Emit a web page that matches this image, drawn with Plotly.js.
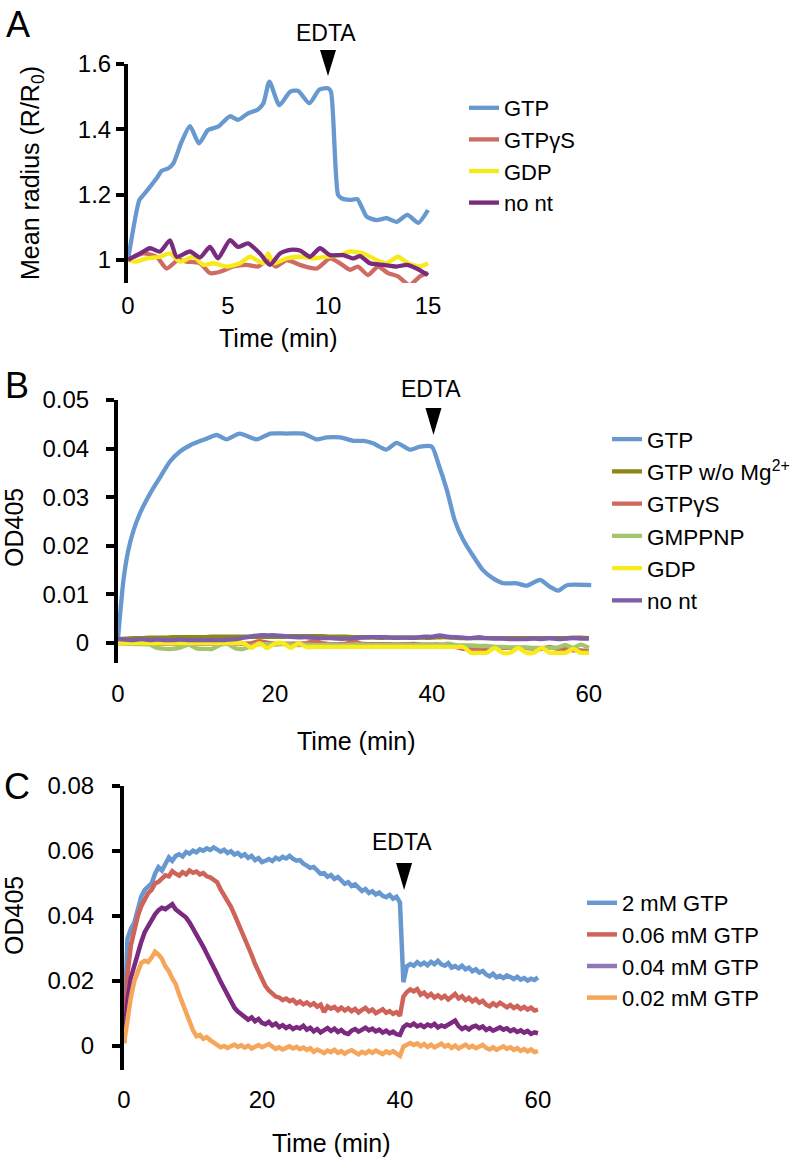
<!DOCTYPE html>
<html><head><meta charset="utf-8">
<script src="https://cdn.plot.ly/plotly-3.0.1.min.js"></script>
<style>html,body{margin:0;padding:0;background:#fff}</style>
</head><body><div id="chart" style="width:801px;height:1162px"></div>
<script>
// ---------- Panel A data (time in min, mean radius R/R0) ----------
const seriesA = ['GTP', 'GTPγS', 'GDP', 'no nt'];
const tA_gtp = [0,0.57,0.77,1.1,1.43,1.68,2.0,2.27,2.68,3.1,3.55,4.0,4.5,5.1,5.5,6.0,6.5,6.77,7.07,7.57,8.1,8.5,9.07,9.57,10.0,10.15,10.5,10.68,11.1,11.47,11.93,12.43,12.93,13.43,13.97,14.52,15.0];
const vA_gtp = [1.0,1.184,1.199,1.224,1.25,1.273,1.28,1.296,1.362,1.41,1.357,1.398,1.408,1.44,1.429,1.449,1.461,1.48,1.546,1.474,1.515,1.518,1.48,1.522,1.526,1.515,1.2,1.189,1.184,1.186,1.133,1.122,1.128,1.117,1.138,1.114,1.153];
const tA_gtpgs = [0,0.77,1.43,1.93,2.5,2.93,3.6,4.1,4.6,5.27,5.93,6.5,7.0,7.4,7.93,8.6,9.43,10.1,10.6,11.1,11.5,12.0,12.5,13.0,13.5,14.07,14.6,15.0];
const vA_gtpgs = [1.0,1.02,1.01,0.974,1.0,0.995,0.99,0.96,0.964,0.98,0.985,0.98,1.0,0.98,1.0,0.985,0.974,1.005,0.99,0.97,0.98,0.954,0.98,0.96,0.95,0.923,0.95,0.96];
const tA_gdp = [0,0.43,0.93,1.6,2.1,2.6,3.27,3.77,4.27,4.93,5.6,6.1,6.77,7.0,7.27,7.93,8.6,9.27,9.93,10.6,11.1,11.77,12.43,12.93,13.5,14.0,14.6,15.0];
const vA_gdp = [1.0,0.995,1.005,1.01,1.02,0.995,1.01,0.985,0.99,0.98,0.99,1.01,0.99,1.02,0.99,1.005,1.01,1.005,1.01,1.015,1.026,1.02,1.0,0.99,1.01,0.99,0.98,0.99];
const tA_nont = [0,0.6,1.1,1.6,2.1,2.43,3.1,3.6,4.1,4.5,5.1,5.5,6.0,6.6,7.1,7.6,8.1,8.6,9.1,9.6,10.1,10.77,11.27,11.6,12.1,12.77,13.43,13.93,14.43,15.0];
const vA_nont = [1.0,1.02,1.036,1.026,1.06,1.01,1.026,1.008,1.04,1.005,1.061,1.04,1.051,1.02,0.985,1.02,1.031,1.029,1.01,1.036,1.015,1.015,1.005,1.012,0.99,0.985,0.98,0.985,0.974,0.954];
const ticksA_x = [0, 5, 10, 15];
const ticksA_y = [1, 1.2, 1.4, 1.6];
const tickTextA_y = ['1', '1.2', '1.4', '1.6'];

// ---------- Panel B data (OD405) ----------
const seriesB = ['GTP', 'GTP w/o Mg<sup>2+</sup>', 'GTPγS', 'GMPPNP', 'GDP', 'no nt'];
const tB_gtp = [0,0.7,1.3,2,2.8,3.5,4.1,5.4,6.6,7.9,9.2,10.9,12.6,13.8,15.5,17.7,19.4,21.5,23.6,25.3,26.6,28.3,30,31.3,32.5,34.2,35.5,37.2,38.5,40,40.8,41.9,42.9,44,45.3,46.5,47.8,49.1,50.8,52.1,53.8,55,56.1,57.2,60.3];
const vB_gtp = [0.001,0.013,0.019,0.0233,0.0267,0.029,0.0308,0.0342,0.0373,0.0394,0.0407,0.0418,0.0428,0.0419,0.0431,0.0419,0.0431,0.0431,0.0431,0.0419,0.0423,0.0423,0.0416,0.0416,0.0411,0.0398,0.0412,0.0398,0.0404,0.0404,0.037,0.0315,0.0253,0.0212,0.0178,0.015,0.0133,0.0123,0.0123,0.0118,0.013,0.0116,0.0108,0.0119,0.0119];
// one reading per minute, 0..60 min
const vB_noMg = [0.0008,0.0009,0.0010,0.0010,0.0011,0.0011,0.0011,0.0012,0.0012,0.0012,
  0.0012,0.0012,0.0013,0.0013,0.0013,0.0013,0.0013,0.0013,0.0013,0.0013,
  0.0013,0.0013,0.0014,0.0014,0.0014,0.0014,0.0014,0.0013,0.0013,0.0013,
  0.0012,0.0012,0.0012,0.0011,0.0011,0.0011,0.0011,0.0011,0.0011,0.0011,
  0.0011,0.0012,0.0012,0.0011,0.0010,0.0010,0.0010,0.0010,0.0010,0.0010,
  0.0010,0.0010,0.0010,0.0010,0.0010,0.0010,0.0010,0.0010,0.0011,0.0011,0.0010];
const vB_gtpgs = [0.0000,0.0000,-0.0001,-0.0001,0.0000,-0.0001,-0.0001,-0.0001,-0.0001,-0.0001,
  -0.0001,-0.0001,-0.0001,-0.0001,-0.0001,-0.0001,-0.0001,0.0000,0.0004,0.0001,
  -0.0001,-0.0001,-0.0001,-0.0001,0.0000,0.0004,0.0000,-0.0002,-0.0002,-0.0001,
  0.0004,-0.0001,-0.0002,-0.0002,-0.0002,-0.0002,-0.0002,-0.0002,-0.0002,-0.0003,
  -0.0003,-0.0003,-0.0004,-0.0008,-0.0012,-0.0012,-0.0012,-0.0012,-0.0010,-0.0010,
  -0.0010,-0.0010,-0.0010,-0.0012,-0.0012,-0.0008,-0.0012,-0.0012,-0.0015,-0.0015,-0.0016];
const vB_gmppnp = [0.0000,-0.0001,-0.0002,-0.0002,-0.0003,-0.0010,-0.0012,-0.0012,-0.0009,-0.0003,
  -0.0011,-0.0012,-0.0012,-0.0004,-0.0002,-0.0011,-0.0012,-0.0006,-0.0002,-0.0002,
  -0.0003,-0.0002,-0.0003,-0.0004,-0.0003,-0.0004,-0.0004,-0.0003,-0.0004,-0.0004,
  -0.0003,-0.0003,-0.0004,-0.0004,-0.0004,-0.0003,-0.0003,-0.0004,-0.0004,-0.0003,
  -0.0003,-0.0004,-0.0001,-0.0004,-0.0005,-0.0005,-0.0006,-0.0006,-0.0008,-0.0008,
  -0.0009,-0.0009,-0.0009,-0.0010,-0.0010,-0.0010,-0.0009,-0.0004,-0.0010,-0.0003,-0.0010];
const vB_gdp = [0,0,0,0,0,0,0,0,0,0,
  0,0,0,0,0,0,0,-0.0010,0,-0.0010,
  -0.0001,0,-0.0010,0,-0.0008,-0.0008,-0.0008,-0.0008,-0.0008,-0.0008,
  -0.0008,-0.0008,-0.0008,-0.0008,-0.0008,-0.0008,-0.0008,-0.0008,-0.0008,-0.0008,
  -0.0008,-0.0008,-0.0008,-0.0008,-0.0008,-0.0020,-0.0020,-0.0020,-0.0010,-0.0020,
  -0.0020,-0.0010,-0.0020,-0.0020,-0.0010,-0.0020,-0.0020,-0.0020,-0.0012,-0.0020,-0.0020];
const vB_nont = [0.0008,0.0007,0.0006,0.0008,0.0006,0.0007,0.0006,0.0006,0.0007,0.0006,
  0.0006,0.0006,0.0006,0.0006,0.0007,0.0008,0.0011,0.0014,0.0016,0.0016,
  0.0016,0.0015,0.0013,0.0012,0.0012,0.0011,0.0010,0.0010,0.0009,0.0009,
  0.0010,0.0011,0.0012,0.0012,0.0012,0.0011,0.0011,0.0011,0.0011,0.0013,
  0.0013,0.0016,0.0013,0.0012,0.0011,0.0010,0.0012,0.0010,0.0009,0.0009,
  0.0008,0.0008,0.0008,0.0009,0.0008,0.0010,0.0008,0.0009,0.0010,0.0009,0.0009];
const ticksB_x = [0, 20, 40, 60];
const ticksB_y = [0, 0.01, 0.02, 0.03, 0.04, 0.05];
const tickTextB_y = ['0', '0.01', '0.02', '0.03', '0.04', '0.05'];

// ---------- Panel C data (OD405, one reading every 0.5 min, 0..60 min) ----------
const seriesC = ['2 mM GTP', '0.06 mM GTP', '0.04 mM GTP', '0.02 mM GTP'];
const vC_2mM = [0.002,0.033,0.036,0.038,0.042,0.046,0.048,0.049,0.050,0.053,
  0.055,0.054,0.056,0.058,0.057,0.0585,0.059,0.0583,0.0597,0.0592,
  0.0601,0.0596,0.0605,0.0601,0.0608,0.0603,0.0611,0.0606,0.0598,0.0604,
  0.0594,0.0599,0.0589,0.0594,0.0584,0.0590,0.0579,0.0585,0.0572,0.0578,
  0.0566,0.0570,0.0575,0.0569,0.0579,0.0574,0.0582,0.0577,0.0585,0.0576,
  0.0570,0.0572,0.0561,0.0555,0.0548,0.0551,0.0538,0.0530,0.0532,0.0521,
  0.0526,0.0514,0.0520,0.0508,0.0499,0.0504,0.0492,0.0497,0.0485,0.0477,
  0.0483,0.0471,0.0476,0.0466,0.0472,0.0462,0.0458,0.0465,0.0453,0.0459,
  0.0442,0.0196,0.0245,0.0252,0.0247,0.0258,0.0250,0.0256,0.0248,0.0259,
  0.0252,0.0262,0.0251,0.0247,0.0255,0.0241,0.0246,0.0239,0.0247,0.0236,
  0.0241,0.0230,0.0236,0.0226,0.0231,0.0220,0.0214,0.0222,0.0211,0.0216,
  0.0209,0.0217,0.0212,0.0206,0.0213,0.0204,0.0209,0.0201,0.0207,0.0203,
  0.0211];
const vC_006 = [0.001,0.022,0.031,0.036,0.040,0.043,0.045,0.047,0.048,0.050,
  0.0505,0.0515,0.0525,0.0522,0.0538,0.0530,0.0524,0.0535,0.0528,0.0540,
  0.0533,0.0537,0.0528,0.0532,0.0522,0.0519,0.0512,0.0504,0.0482,0.0465,
  0.0448,0.0428,0.0405,0.0381,0.0358,0.0330,0.0305,0.0280,0.0252,0.0228,
  0.0205,0.0184,0.0171,0.0162,0.0152,0.0149,0.0141,0.0146,0.0138,0.0142,
  0.0131,0.0137,0.0128,0.0134,0.0125,0.0131,0.0121,0.0127,0.0104,0.0122,
  0.0115,0.0120,0.0110,0.0118,0.0109,0.0116,0.0107,0.0114,0.0103,0.0111,
  0.0117,0.0106,0.0112,0.0101,0.0109,0.0113,0.0102,0.0107,0.0099,0.0104,
  0.0093,0.0152,0.0166,0.0174,0.0168,0.0175,0.0158,0.0164,0.0152,0.0160,
  0.0149,0.0156,0.0147,0.0154,0.0143,0.0150,0.0160,0.0146,0.0153,0.0141,
  0.0148,0.0137,0.0144,0.0133,0.0139,0.0127,0.0122,0.0131,0.0124,0.0133,
  0.0127,0.0119,0.0126,0.0117,0.0123,0.0114,0.0120,0.0112,0.0118,0.0109,
  0.0112];
const vC_004 = [0.001,0.014,0.021,0.025,0.029,0.032,0.035,0.037,0.039,0.0405,
  0.0418,0.0425,0.0421,0.0428,0.0436,0.0420,0.0413,0.0402,0.0395,0.0380,
  0.0362,0.0345,0.0325,0.0305,0.0284,0.0265,0.0242,0.0221,0.0198,0.0176,
  0.0157,0.0135,0.0118,0.0106,0.0097,0.0090,0.0081,0.0088,0.0076,0.0083,
  0.0071,0.0067,0.0074,0.0063,0.0069,0.0058,0.0064,0.0055,0.0061,0.0052,
  0.0058,0.0054,0.0062,0.0050,0.0056,0.0045,0.0052,0.0042,0.0050,0.0055,
  0.0046,0.0053,0.0043,0.0049,0.0040,0.0037,0.0047,0.0052,0.0044,0.0050,
  0.0056,0.0048,0.0053,0.0045,0.0050,0.0041,0.0047,0.0039,0.0044,0.0036,
  0.0034,0.0058,0.0066,0.0062,0.0069,0.0060,0.0065,0.0058,0.0066,0.0061,
  0.0068,0.0057,0.0063,0.0059,0.0066,0.0072,0.0078,0.0061,0.0052,0.0058,
  0.0051,0.0059,0.0062,0.0055,0.0060,0.0049,0.0055,0.0047,0.0053,0.0057,
  0.0050,0.0054,0.0046,0.0051,0.0043,0.0048,0.0041,0.0046,0.0037,0.0042,
  0.0039];
const vC_002 = [0.0008,0.008,0.015,0.020,0.023,0.0255,0.0262,0.0258,0.0272,0.0290,
  0.0281,0.0268,0.0245,0.0230,0.0208,0.0190,0.0158,0.0128,0.0102,0.0072,
  0.0048,0.0030,0.0034,0.0022,0.0027,0.0018,0.0010,0.0003,-0.0004,0.0000,
  -0.0006,-0.0001,0.0004,-0.0003,0.0002,-0.0005,0.0001,-0.0008,-0.0002,0.0003,
  -0.0004,0.0001,0.0006,-0.0002,-0.0009,-0.0004,-0.0011,-0.0006,-0.0001,-0.0008,
  -0.0003,-0.0010,-0.0005,-0.0012,-0.0007,-0.0018,-0.0011,-0.0016,-0.0022,-0.0014,
  -0.0019,-0.0012,-0.0021,-0.0016,-0.0024,-0.0017,-0.0013,-0.0020,-0.0026,-0.0018,
  -0.0023,-0.0015,-0.0021,-0.0014,-0.0019,-0.0025,-0.0017,-0.0022,-0.0016,-0.0024,
  -0.0031,-0.0002,0.0005,0.0009,0.0003,0.0008,-0.0001,0.0006,-0.0003,0.0004,
  -0.0004,0.0002,0.0007,-0.0002,0.0003,-0.0006,0.0001,-0.0008,-0.0002,0.0004,
  -0.0005,0.0000,-0.0007,-0.0001,0.0003,-0.0006,-0.0011,-0.0004,-0.0012,-0.0006,
  -0.0001,-0.0009,-0.0004,-0.0012,-0.0007,-0.0015,-0.0010,-0.0017,-0.0011,-0.0019,
  -0.0016];
const ticksC_x = [0, 20, 40, 60];
const ticksC_y = [0, 0.02, 0.04, 0.06, 0.08];
const tickTextC_y = ['0', '0.02', '0.04', '0.06', '0.08'];

// EDTA addition times (min) for panels A, B, C
const edtaTimes = [10, 40.2, 40.6];

// ---------- geometry & style ----------
const W = 801, H = 1162;
const FONT = '"Liberation Sans", Arial, Helvetica, sans-serif';
const TICK_SIZE = 24, TITLE_SIZE = 25;
const fx = p => p / W;
const fy = p => 1 - p / H;
const geo = {
  A: {l: 128, r: 430, t: 64, b: 283, xr: [0, 15.1], yr: [0.9296, 1.6], base: 1},
  B: {l: 118, r: 592, t: 400, b: 663, xr: [0, 60.4], yr: [-0.0041, 0.05], base: 0},
  C: {l: 124, r: 540, t: 786, b: 1070, xr: [0, 60.3], yr: [-0.0074, 0.08], base: 0}
};
const xpx = (g, v) => g.l + (v - g.xr[0]) / (g.xr[1] - g.xr[0]) * (g.r - g.l);
const ypx = (g, v) => g.b - (v - g.yr[0]) / (g.yr[1] - g.yr[0]) * (g.b - g.t);

const colA = ['#6798CF', '#CE6C64', '#F7EA1B', '#7A2B7E'];
const colB = ['#6798CF', '#8E8618', '#D0685E', '#A4C46D', '#F9EA1A', '#7E5DA9'];
const colC = ['#6798CF', '#CF6359', '#7B2A80', '#F6A65B'];
const legendPurpleC = '#9077B5';

const traces = [];
const spl = {shape: 'spline', smoothing: 0.6};
// Panel A
[[tA_gtp, vA_gtp], [tA_gtpgs, vA_gtpgs], [tA_gdp, vA_gdp], [tA_nont, vA_nont]].forEach((d, i) => {
  traces.push({type: 'scatter', mode: 'lines', x: d[0], y: d[1], name: seriesA[i], xaxis: 'x', yaxis: 'y',
    legend: 'legend', line: Object.assign({color: colA[i], width: 4.3}, spl)});
});
// Panel B
traces.push({type: 'scatter', mode: 'lines', x: tB_gtp, y: vB_gtp, name: seriesB[0], xaxis: 'x2', yaxis: 'y2',
  legend: 'legend2', line: Object.assign({color: colB[0], width: 4.3}, spl)});
[vB_noMg, vB_gtpgs, vB_gmppnp, vB_gdp, vB_nont].forEach((v, i) => {
  traces.push({type: 'scatter', mode: 'lines', x0: 0, dx: 1, y: v, name: seriesB[i + 1], xaxis: 'x2', yaxis: 'y2',
    legend: 'legend2', line: Object.assign({color: colB[i + 1], width: 4.3}, spl)});
});
// Panel C
traces.push({type: 'scatter', mode: 'lines', x0: 0, dx: 0.5, y: vC_2mM, name: seriesC[0], xaxis: 'x3', yaxis: 'y3', legend: 'legend3', line: {color: colC[0], width: 4.5}});
traces.push({type: 'scatter', mode: 'lines', x0: 0, dx: 0.5, y: vC_006, name: seriesC[1], xaxis: 'x3', yaxis: 'y3', legend: 'legend3', line: {color: colC[1], width: 4.5}});
traces.push({type: 'scatter', mode: 'lines', x0: 0, dx: 0.5, y: vC_004, name: seriesC[2], xaxis: 'x3', yaxis: 'y3', legend: 'legend3', showlegend: false, line: {color: colC[2], width: 4.5}});
traces.push({type: 'scatter', mode: 'lines', x: [null], y: [null], name: seriesC[2], xaxis: 'x3', yaxis: 'y3', legend: 'legend3', line: {color: legendPurpleC, width: 4.5}});
traces.push({type: 'scatter', mode: 'lines', x0: 0, dx: 0.5, y: vC_002, name: seriesC[3], xaxis: 'x3', yaxis: 'y3', legend: 'legend3', line: {color: colC[3], width: 4.5}});

function xAxisLabels(g, tickvals, standoff) {
  return {domain: [fx(g.l), fx(g.r)], range: g.xr, tickvals: tickvals, ticks: '', showline: false,
    zeroline: false, showgrid: false, ticklabelstandoff: standoff, tickfont: {family: FONT, size: TICK_SIZE, color: '#000'}, fixedrange: true};
}
function yAxisMain(g, tickvals, ticktext, standoff) {
  return {domain: [fy(g.b), fy(g.t)], range: g.yr, tickvals: tickvals, ticktext: ticktext, ticks: 'outside',
    ticklen: 8, tickwidth: 4, tickcolor: '#000', showline: true, linewidth: 4, linecolor: '#000',
    zeroline: false, showgrid: false, ticklabelstandoff: standoff, tickfont: {family: FONT, size: TICK_SIZE, color: '#000'}, fixedrange: true};
}
function baseAxis(g, over, tickvals) {
  return {overlaying: over, anchor: 'free', position: fy(ypx(g, g.base)), range: g.xr, tickvals: tickvals,
    ticks: 'outside', ticklen: 7, tickwidth: 3, tickcolor: '#000', showticklabels: false, showline: true,
    linewidth: 4, linecolor: '#000', showgrid: false, zeroline: false, layer: 'below traces', fixedrange: true};
}

const ann = [];
const shapes = [];
function txt(text, x, y, size, angle) {
  ann.push({text: text, x: fx(x), y: fy(y), xref: 'paper', yref: 'paper', xanchor: 'center', yanchor: 'middle',
    showarrow: false, textangle: angle || 0, font: {family: FONT, size: size, color: '#000'}});
}
txt('A', 18, 25, 36); txt('B', 17, 385, 36); txt('C', 17, 786, 36);
txt('Mean radius (R/R<sub>0</sub>)', 32, 173, TITLE_SIZE, -90);
txt('OD405', 14, 528, TITLE_SIZE, -90);
txt('OD405', 14, 916, TITLE_SIZE, -90);
txt('Time (min)', 278, 338, TITLE_SIZE);
txt('Time (min)', 356, 741, TITLE_SIZE);
txt('Time (min)', 331, 1143, TITLE_SIZE);
// EDTA markers: label + filled down-pointing triangle
[[geo.A, edtaTimes[0], 33, 50, 76], [geo.B, edtaTimes[1], 389, 408, 435], [geo.C, edtaTimes[2], 842, 863, 890]].forEach(e => {
  const cx = xpx(e[0], e[1]);
  txt('EDTA', cx - 2, e[2], 23);
  shapes.push({type: 'path', xref: 'paper', yref: 'paper', fillcolor: '#000', line: {width: 0},
    path: `M ${fx(cx - 8)} ${fy(e[3])} L ${fx(cx + 8)} ${fy(e[3])} L ${fx(cx)} ${fy(e[4])} Z`});
});

const legendBase = {bgcolor: 'rgba(0,0,0,0)', borderwidth: 0, xanchor: 'left', yanchor: 'top', traceorder: 'normal',
  itemclick: false, itemdoubleclick: false};
const layout = {
  width: W, height: H, margin: {l: 0, r: 0, t: 0, b: 0}, paper_bgcolor: '#fff', plot_bgcolor: 'rgba(0,0,0,0)',
  font: {family: FONT, size: 22, color: '#000'}, showlegend: true,
  xaxis: Object.assign(xAxisLabels(geo.A, ticksA_x, 6), {anchor: 'y'}),
  yaxis: Object.assign(yAxisMain(geo.A, ticksA_y, tickTextA_y, 0), {anchor: 'x'}),
  xaxis2: Object.assign(xAxisLabels(geo.B, ticksB_x, 14), {anchor: 'y2'}),
  yaxis2: Object.assign(yAxisMain(geo.B, ticksB_y, tickTextB_y, 12), {anchor: 'x2'}),
  xaxis3: Object.assign(xAxisLabels(geo.C, ticksC_x, 13), {anchor: 'y3'}),
  yaxis3: Object.assign(yAxisMain(geo.C, ticksC_y, tickTextC_y, 13), {anchor: 'x3'}),
  xaxis4: baseAxis(geo.A, 'x', ticksA_x),
  xaxis5: baseAxis(geo.B, 'x2', ticksB_x),
  xaxis6: baseAxis(geo.C, 'x3', ticksC_x),
  legend: Object.assign({}, legendBase, {x: fx(464), y: fy(87), font: {family: FONT, size: 22, color: '#000'}}),
  legend2: Object.assign({}, legendBase, {x: fx(607), y: fy(418), font: {family: FONT, size: 22.5, color: '#000'}}),
  legend3: Object.assign({}, legendBase, {x: fx(582), y: fy(882), font: {family: FONT, size: 22, color: '#000'}}),
  annotations: ann, shapes: shapes
};
Plotly.newPlot('chart', traces, layout, {staticPlot: true, displayModeBar: false});
</script></body></html>
